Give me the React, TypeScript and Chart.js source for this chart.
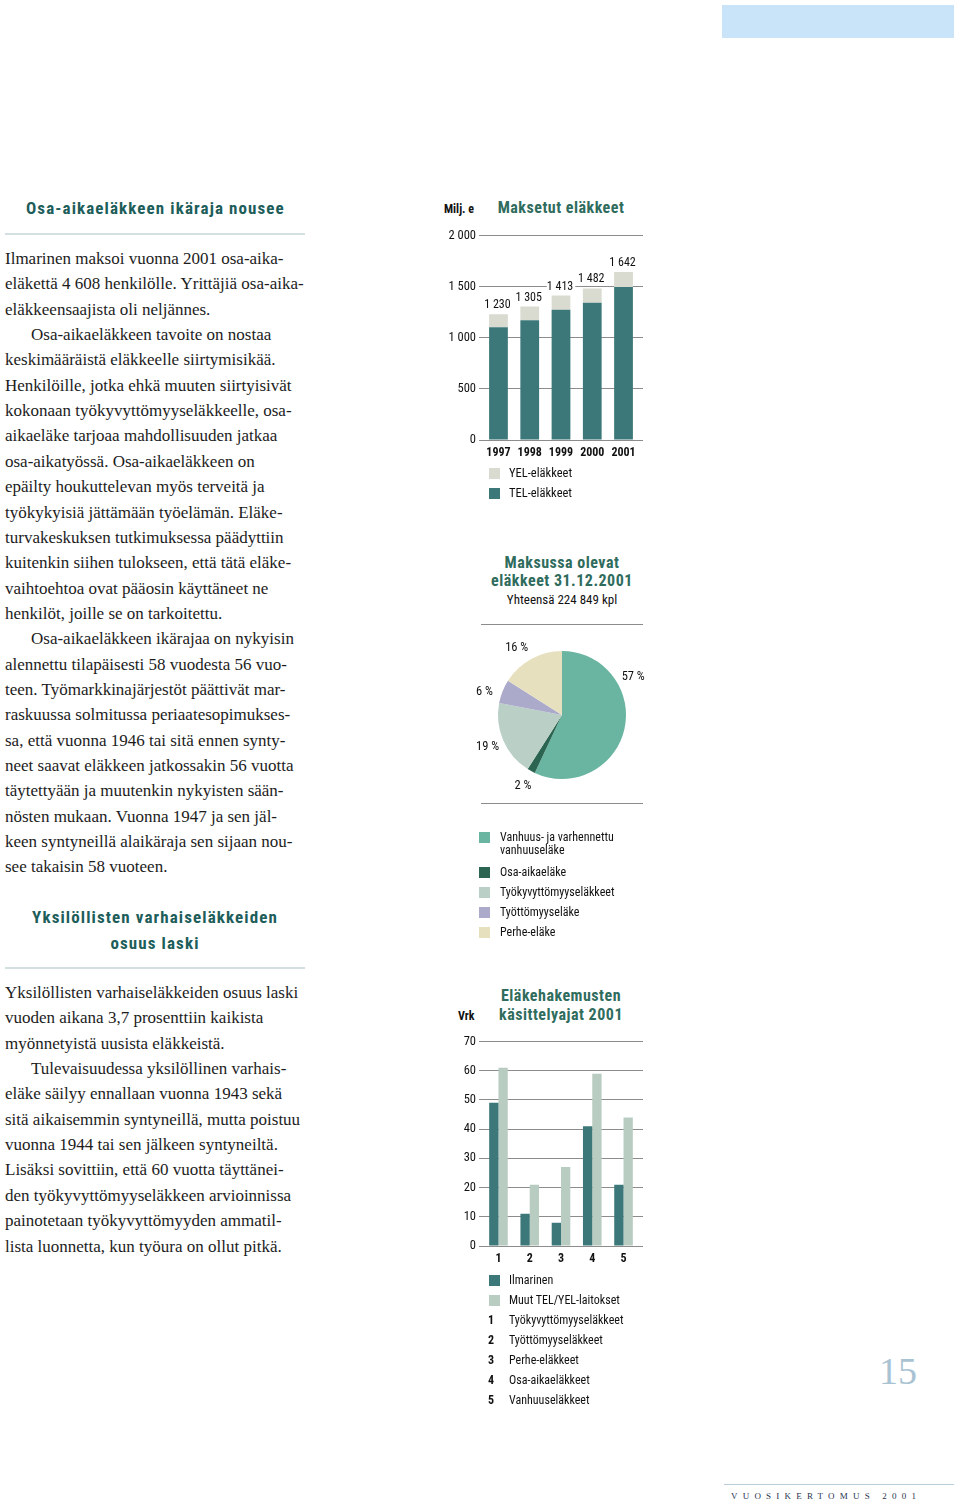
import React, { useEffect, useRef } from "react";
import { Chart, registerables } from "chart.js";

Chart.register(...registerables);

const SANS = '"Roboto Condensed", "Arial Narrow", "Liberation Sans", sans-serif';
const SERIF = '"Liberation Serif", "DejaVu Serif", serif';

// ---- Chart 1: Maksetut eläkkeet ----
const years = ["1997", "1998", "1999", "2000", "2001"];
const telValues = [1102, 1171, 1275, 1343, 1496];
const yelValues = [128, 134, 138, 139, 146];
const totalLabels = ["1 230", "1 305", "1 413", "1 482", "1 642"];
const pensionTickValues = [0, 500, 1000, 1500, 2000];
const pensionTickLabels = ["0", "500", "1 000", "1 500", "2 000"];

// ---- Chart 2: Maksussa olevat eläkkeet ----
const pieLabels = [
  "Vanhuus- ja varhennettu vanhuuseläke",
  "Osa-aikaeläke",
  "Työkyvyttömyyseläkkeet",
  "Työttömyyseläke",
  "Perhe-eläke",
];
const pieValues = [57, 2, 19, 6, 16];
const pieColors = ["#6ab5a1", "#2b6552", "#bacfc5", "#abaacb", "#e7e0bf"];
const pieLabelAnchor = [0.3, 0.5, 0.5, 0.27, 0.41];

// ---- Chart 3: Eläkehakemusten käsittelyajat 2001 ----
const categories = ["1", "2", "3", "4", "5"];
const ilmarinenDays = [49, 11, 8, 41, 21];
const otherDays = [61, 21, 27, 59, 44];
const dayTickValues = [0, 10, 20, 30, 40, 50, 60, 70];
const categoryNames = [
  "Työkyvyttömyyseläkkeet",
  "Työttömyyseläkkeet",
  "Perhe-eläkkeet",
  "Osa-aikaeläkkeet",
  "Vanhuuseläkkeet",
];

const TEL = "#3c7879";
const YEL = "#d9dbd0";
const OTHER = "#b9ccc1";
const TITLE = "#2f6c5d";
const HEAD = "#1d5d5a";
const GRID = "#8c8c8c";

const block1 = [
  { t: "Ilmarinen maksoi vuonna 2001 osa-aika-" },
  { t: "eläkettä 4 608 henkilölle. Yrittäjiä osa-aika-" },
  { t: "eläkkeensaajista oli neljännes." },
  { t: "Osa-aikaeläkkeen tavoite on nostaa", i: true },
  { t: "keskimääräistä eläkkeelle siirtymisikää." },
  { t: "Henkilöille, jotka ehkä muuten siirtyisivät" },
  { t: "kokonaan työkyvyttömyyseläkkeelle, osa-" },
  { t: "aikaeläke tarjoaa mahdollisuuden jatkaa" },
  { t: "osa-aikatyössä. Osa-aikaeläkkeen on" },
  { t: "epäilty houkuttelevan myös terveitä ja" },
  { t: "työkykyisiä jättämään työelämän. Eläke-" },
  { t: "turvakeskuksen tutkimuksessa päädyttiin" },
  { t: "kuitenkin siihen tulokseen, että tätä eläke-" },
  { t: "vaihtoehtoa ovat pääosin käyttäneet ne" },
  { t: "henkilöt, joille se on tarkoitettu." },
  { t: "Osa-aikaeläkkeen ikärajaa on nykyisin", i: true },
  { t: "alennettu tilapäisesti 58 vuodesta 56 vuo-" },
  { t: "teen. Työmarkkinajärjestöt päättivät mar-" },
  { t: "raskuussa solmitussa periaatesopimukses-" },
  { t: "sa, että vuonna 1946 tai sitä ennen synty-" },
  { t: "neet saavat eläkkeen jatkossakin 56 vuotta" },
  { t: "täytettyään ja muutenkin nykyisten sään-" },
  { t: "nösten mukaan. Vuonna 1947 ja sen jäl-" },
  { t: "keen syntyneillä alaikäraja sen sijaan nou-" },
  { t: "see takaisin 58 vuoteen." },
];

const block2 = [
  { t: "Yksilöllisten varhaiseläkkeiden osuus laski" },
  { t: "vuoden aikana 3,7 prosenttiin kaikista" },
  { t: "myönnetyistä uusista eläkkeistä." },
  { t: "Tulevaisuudessa yksilöllinen varhais-", i: true },
  { t: "eläke säilyy ennallaan vuonna 1943 sekä" },
  { t: "sitä aikaisemmin syntyneillä, mutta poistuu" },
  { t: "vuonna 1944 tai sen jälkeen syntyneiltä." },
  { t: "Lisäksi sovittiin, että 60 vuotta täyttänei-" },
  { t: "den työkyvyttömyyseläkkeen arvioinnissa" },
  { t: "painotetaan työkyvyttömyyden ammatil-" },
  { t: "lista luonnetta, kun työura on ollut pitkä." },
];

const totalsPlugin = {
  id: "totals",
  afterDatasetsDraw(chart: any) {
    const ctx = chart.ctx;
    const meta = chart.getDatasetMeta(chart.data.datasets.length - 1);
    ctx.save();
    ctx.font = `12px ${SANS}`;
    ctx.textAlign = "center";
    ctx.textBaseline = "bottom";
    meta.data.forEach((bar: any, i: number) => {
      const txt = totalLabels[i];
      const w = ctx.measureText(txt).width;
      ctx.fillStyle = "#fff";
      ctx.fillRect(bar.x - w / 2 - 1, bar.y - 15, w + 2, 11);
      ctx.fillStyle = "#111";
      ctx.fillText(txt, bar.x - 1, bar.y - 3);
    });
    ctx.restore();
  },
};

const pieLabelPlugin = {
  id: "pielabels",
  afterDatasetsDraw(chart: any) {
    const ctx = chart.ctx;
    const meta = chart.getDatasetMeta(0);
    ctx.save();
    ctx.font = `12.5px ${SANS}`;
    ctx.fillStyle = "#111";
    ctx.textAlign = "center";
    ctx.textBaseline = "middle";
    meta.data.forEach((arc: any, i: number) => {
      const p = arc.getProps(["startAngle", "endAngle", "x", "y", "outerRadius"], true);
      const a = p.startAngle + (p.endAngle - p.startAngle) * pieLabelAnchor[i];
      const d = p.outerRadius + 17;
      ctx.fillText(`${pieValues[i]} %`, p.x + Math.cos(a) * d, p.y + Math.sin(a) * d);
    });
    ctx.restore();
  },
};

function barOptions(
  yMax: number,
  yTicks: number[],
  yLabels: string[],
  xLabels: string[],
  stacked: boolean,
  catPct: number,
  barPct: number
): any {
  return {
    responsive: false,
    animation: false,
    layout: { padding: { top: 10, left: 0, right: 0, bottom: 0 } },
    plugins: { legend: { display: false }, tooltip: { enabled: false } },
    datasets: { bar: { categoryPercentage: catPct, barPercentage: barPct } },
    scales: {
      x: {
        type: "linear",
        min: 0.377,
        max: 5.623,
        stacked,
        offset: false,
        grid: { display: false, offset: false, drawTicks: false },
        border: { display: false },
        afterBuildTicks: (s: any) => {
          s.ticks = xLabels.map((_, i) => ({ value: i + 1 }));
        },
        afterFit: (s: any) => {
          s.height = 25;
        },
        ticks: {
          callback: (_v: any, i: number) => xLabels[i],
          font: { family: SANS, size: 12, weight: "bold" },
          color: "#111",
          padding: 6,
          autoSkip: false,
          maxRotation: 0,
        },
      },
      y: {
        type: "linear",
        min: 0,
        max: yMax,
        stacked,
        afterBuildTicks: (s: any) => {
          s.ticks = yTicks.map((v) => ({ value: v }));
        },
        afterFit: (s: any) => {
          s.width = 39;
        },
        grid: { color: GRID, lineWidth: 1, drawTicks: false },
        border: { display: false },
        ticks: {
          callback: (_v: any, i: number) => yLabels[i],
          font: { family: SANS, size: 12.5 },
          color: "#111",
          padding: 3,
        },
      },
    },
  };
}

const abs = (s: React.CSSProperties): React.CSSProperties => ({ position: "absolute", ...s });

function TextLine({ cx, cy, x, text, size, bold, color, family, w = 300, lh = 20, ls }: any) {
  const style: React.CSSProperties = {
    position: "absolute",
    top: cy - lh / 2,
    height: lh,
    lineHeight: `${lh}px`,
    fontSize: size,
    fontWeight: bold ? "bold" : "normal",
    color: color || "#111",
    fontFamily: family || SANS,
    whiteSpace: "nowrap",
    letterSpacing: ls,
  };
  if (cx !== undefined) {
    style.left = cx - w / 2;
    style.width = w;
    style.textAlign = "center";
  } else {
    style.left = x;
  }
  return <div style={style}>{text}</div>;
}

function Swatch({ x, cy, color }: any) {
  return <div style={abs({ left: x, top: cy - 5.5, width: 11, height: 11, background: color })} />;
}

export default function App() {
  const c1 = useRef<HTMLCanvasElement>(null);
  const c2 = useRef<HTMLCanvasElement>(null);
  const c3 = useRef<HTMLCanvasElement>(null);

  useEffect(() => {
    const ch1 = new Chart(c1.current!, {
      type: "bar",
      data: {
        datasets: [
          { label: "TEL-eläkkeet", data: telValues.map((v, i) => ({ x: i + 1, y: v })), backgroundColor: TEL },
          { label: "YEL-eläkkeet", data: yelValues.map((v, i) => ({ x: i + 1, y: v })), backgroundColor: YEL },
        ],
      } as any,
      options: barOptions(2000, pensionTickValues, pensionTickLabels, years, true, 1, 0.6),
      plugins: [totalsPlugin],
    });

    const ch2 = new Chart(c2.current!, {
      type: "pie",
      data: {
        labels: pieLabels,
        datasets: [{ data: pieValues, backgroundColor: pieColors, borderWidth: 0 }],
      },
      options: {
        responsive: false,
        animation: false,
        layout: { padding: 36 },
        plugins: { legend: { display: false }, tooltip: { enabled: false } },
      } as any,
      plugins: [pieLabelPlugin],
    });

    const ch3 = new Chart(c3.current!, {
      type: "bar",
      data: {
        datasets: [
          { label: "Ilmarinen", data: ilmarinenDays.map((v, i) => ({ x: i + 1, y: v })), backgroundColor: TEL },
          { label: "Muut TEL/YEL-laitokset", data: otherDays.map((v, i) => ({ x: i + 1, y: v })), backgroundColor: OTHER },
        ],
      } as any,
      options: barOptions(70, dayTickValues, dayTickValues.map(String), categories, false, 0.595, 1),
    });

    return () => {
      ch1.destroy();
      ch2.destroy();
      ch3.destroy();
    };
  }, []);

  const LH = 25.35;

  return (
    <div style={abs({ left: 0, top: 0, width: 960, height: 1502, background: "#fff", overflow: "hidden" })}>
      <div style={abs({ left: 722, top: 5, width: 232, height: 33, background: "#c9e4f9" })} />

      <TextLine x={26} cy={208} text="Osa-aikaeläkkeen ikäraja nousee" size={17} bold color={HEAD} ls="1.1px" />
      <div style={abs({ left: 5, top: 233, width: 300, height: 2, background: "#d3dfe0" })} />
      {block1.map((l, i) => (
        <TextLine key={"a" + i} x={l.i ? 31 : 5} cy={259 + i * LH} text={l.t} size={17} family={SERIF} color="#1c1c1c" lh={24} />
      ))}
      <TextLine cx={155} cy={917} text="Yksilöllisten varhaiseläkkeiden" size={17} bold color={HEAD} ls="1.1px" />
      <TextLine cx={155} cy={943} text="osuus laski" size={17} bold color={HEAD} ls="1.1px" />
      <div style={abs({ left: 5, top: 967, width: 300, height: 2, background: "#d3dfe0" })} />
      {block2.map((l, i) => (
        <TextLine key={"b" + i} x={l.i ? 31 : 5} cy={993 + i * LH} text={l.t} size={17} family={SERIF} color="#1c1c1c" lh={24} />
      ))}

      <TextLine x={444} cy={209} text="Milj. e" size={12} bold />
      <TextLine cx={561} cy={208} text="Maksetut eläkkeet" size={16} bold color={TITLE} ls="0.5px" />
      <canvas ref={c1} width={203} height={240} style={abs({ left: 440, top: 225 })} />
      <Swatch x={489} cy={473} color={YEL} />
      <TextLine x={509} cy={473} text="YEL-eläkkeet" size={12.5} />
      <Swatch x={489} cy={493} color={TEL} />
      <TextLine x={509} cy={493} text="TEL-eläkkeet" size={12.5} />

      <TextLine cx={562} cy={563} text="Maksussa olevat" size={16} bold color={TITLE} ls="0.5px" />
      <TextLine cx={562} cy={581} text="eläkkeet 31.12.2001" size={16} bold color={TITLE} ls="0.5px" />
      <TextLine cx={562} cy={600} text="Yhteensä 224 849 kpl" size={13} />
      <div style={abs({ left: 481, top: 624, width: 162, height: 1, background: "#8c8c8c" })} />
      <canvas ref={c2} width={200} height={200} style={abs({ left: 462, top: 615 })} />
      <div style={abs({ left: 481, top: 803, width: 162, height: 1, background: "#8c8c8c" })} />
      <Swatch x={479} cy={837} color={pieColors[0]} />
      <TextLine x={500} cy={837} text="Vanhuus- ja varhennettu" size={12} lh={14} />
      <TextLine x={500} cy={850} text="vanhuuseläke" size={12} lh={14} />
      {pieLabels.slice(1).map((l, i) => (
        <React.Fragment key={"p" + i}>
          <Swatch x={479} cy={872 + i * 20} color={pieColors[i + 1]} />
          <TextLine x={500} cy={872 + i * 20} text={l} size={12} />
        </React.Fragment>
      ))}

      <TextLine cx={561} cy={996} text="Eläkehakemusten" size={16} bold color={TITLE} ls="0.5px" />
      <TextLine cx={561} cy={1015} text="käsittelyajat 2001" size={16} bold color={TITLE} ls="0.5px" />
      <TextLine x={458} cy={1016} text="Vrk" size={12} bold />
      <canvas ref={c3} width={203} height={240} style={abs({ left: 440, top: 1031 })} />
      <Swatch x={489} cy={1280} color={TEL} />
      <TextLine x={509} cy={1280} text="Ilmarinen" size={12} />
      <Swatch x={489} cy={1300} color={OTHER} />
      <TextLine x={509} cy={1300} text="Muut TEL/YEL-laitokset" size={12} />
      {categoryNames.map((n, i) => (
        <React.Fragment key={"c" + i}>
          <TextLine x={488} cy={1320 + i * 20} text={categories[i]} size={12} bold />
          <TextLine x={509} cy={1320 + i * 20} text={n} size={12} />
        </React.Fragment>
      ))}

      <TextLine x={879} cy={1371} text="15" size={38} family={SERIF} color="#a9c3d3" lh={42} />
      <div style={abs({ left: 724, top: 1484, width: 230, height: 1, background: "#b9ced8" })} />
      <TextLine x={731} cy={1496} text="VUOSIKERTOMUS 2001" size={9} family={SERIF} color="#2a3550" lh={12} ls="5.2px" />
    </div>
  );
}
